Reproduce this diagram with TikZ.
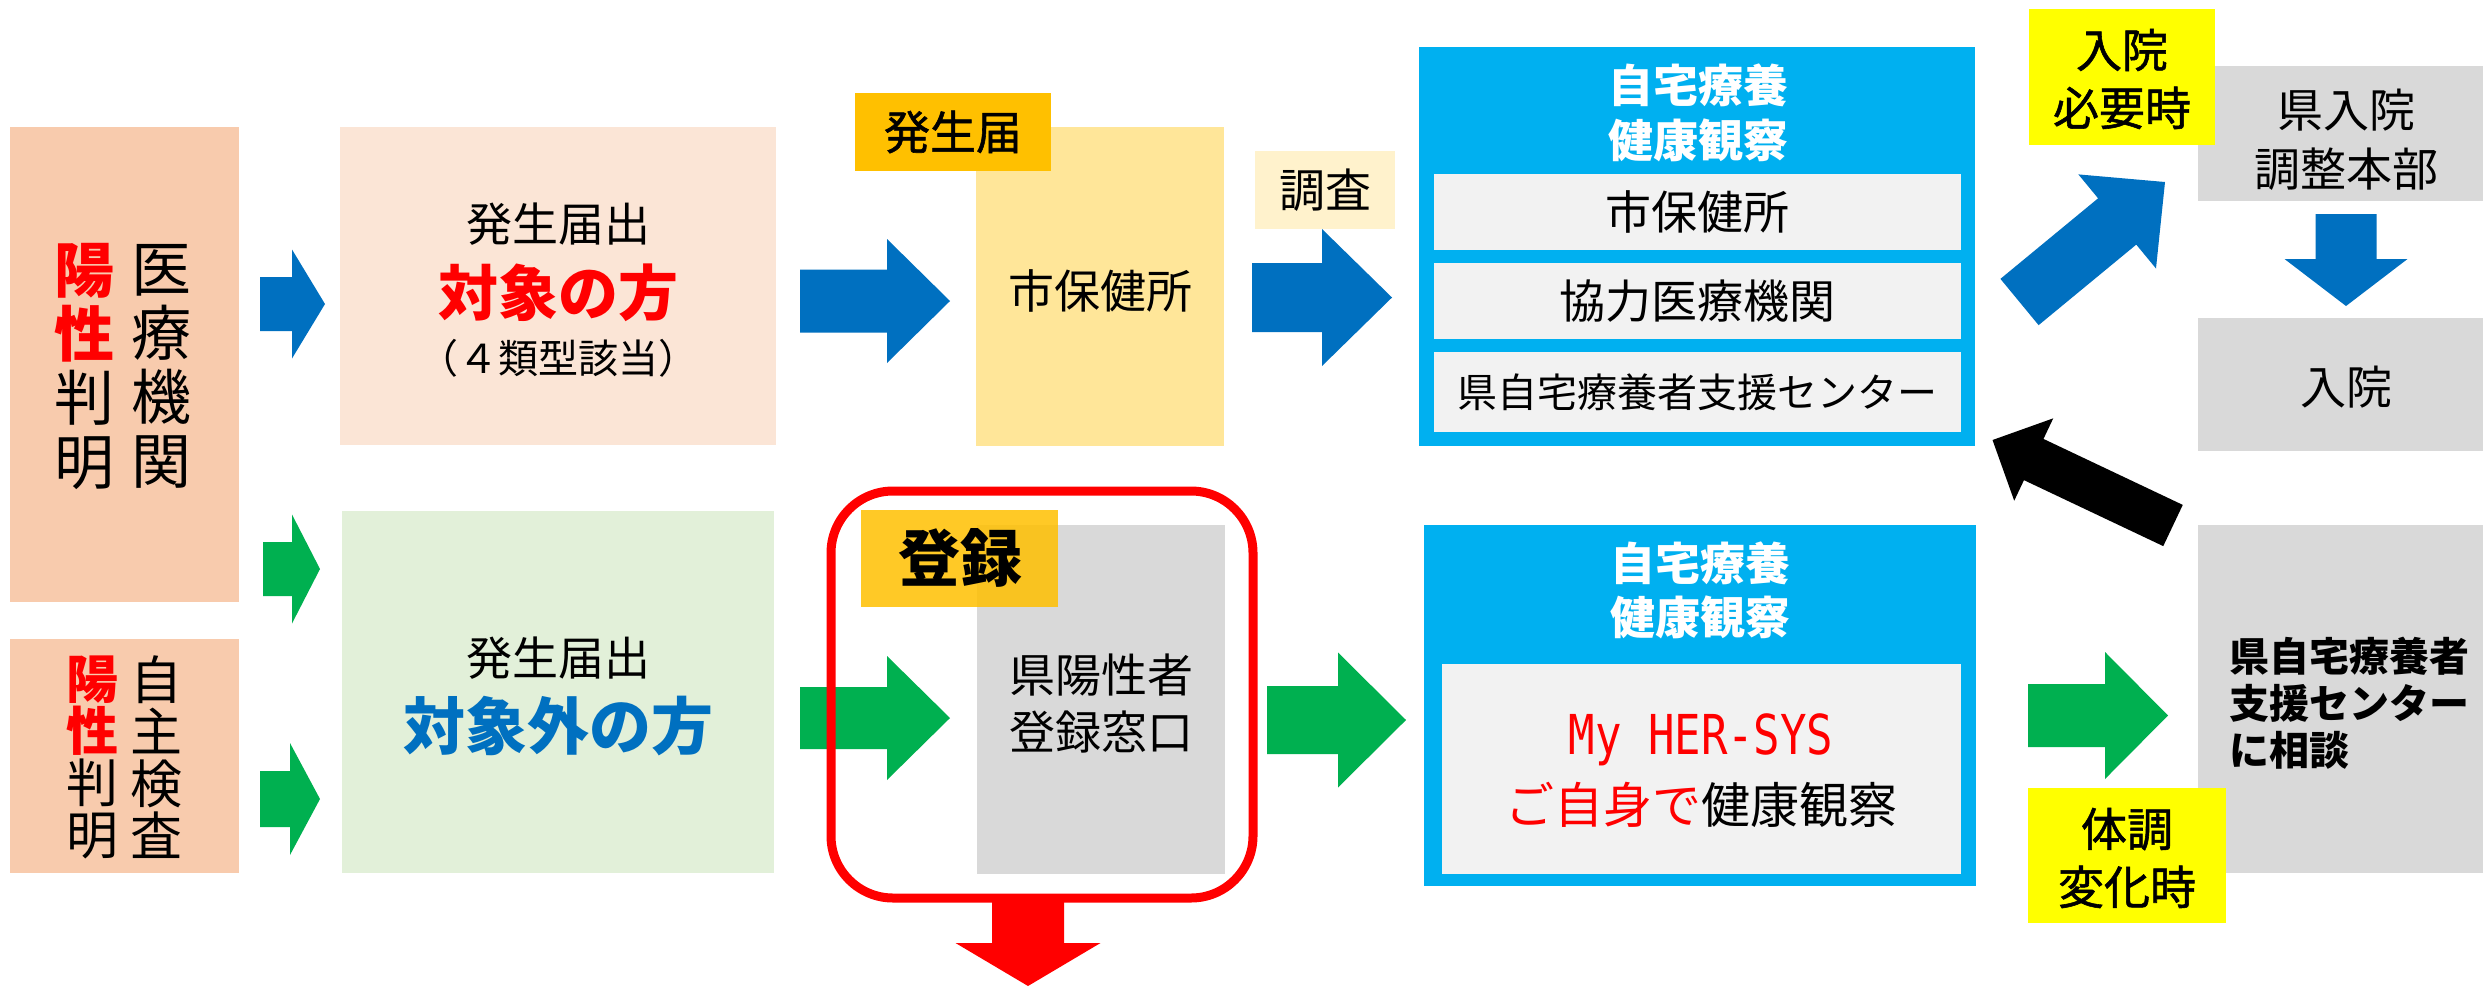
\documentclass[tikz,border=0pt]{standalone}
\usepackage{fontspec}
\usepackage{graphicx}
\setmainfont{Noto Sans CJK JP}
\newfontfamily\monofont{DejaVu Sans Mono}
\newfontfamily\semibold[FakeBold=1.2]{Noto Sans CJK JP}
\usetikzlibrary{calc}
\definecolor{cMed}{HTML}{F8CBAD}
\definecolor{cTgt}{HTML}{FBE5D6}
\definecolor{cNtgt}{HTML}{E2F0D9}
\definecolor{cCity}{HTML}{FFE699}
\definecolor{cGold}{HTML}{FFC000}
\definecolor{cChosa}{HTML}{FFF2CC}
\definecolor{cGray}{HTML}{D9D9D9}
\definecolor{cCyan}{HTML}{00B0F0}
\definecolor{cLight}{HTML}{F2F2F2}
\definecolor{cYellow}{HTML}{FFFF00}
\definecolor{cBlue}{HTML}{0070C0}
\definecolor{cGreen}{HTML}{00B050}
\definecolor{cRed}{HTML}{FF0000}
\newcommand\fsz[2]{\fontsize{#1pt}{#2pt}\selectfont}
% box: name, colour, x, y (top-left), width, height
\newcommand\rbox[6]{\node[boxsty,fill=#2,minimum width=#5pt,minimum height=#6pt] (#1) at (#3,#4) {};}
% block arrow: style, from, to, shaft half width, head half width, head length
\newcommand\blockarrow[6]{%
  \path let \p1=($(#3)-(#2)$) in \pgfextra{%
    \pgfmathsetmacro\baang{atan2(\y1,\x1)}%
    \pgfmathsetmacro\balen{veclen(\x1,\y1)}%
    \global\let\baAng\baang \global\let\baLen\balen};
  \fill[#1, shift={(#2)}, rotate=\baAng]
    (0pt,-#4pt) -- ({\baLen pt-#6pt},-#4pt) -- ({\baLen pt-#6pt},-#5pt) -- (\baLen pt,0pt)
    -- ({\baLen pt-#6pt},#5pt) -- ({\baLen pt-#6pt},#4pt) -- (0pt,#4pt) -- cycle;
}
\begin{document}
\begin{tikzpicture}[x=1pt,y=-1pt,
  boxsty/.style={anchor=north west,inner sep=0pt,outer sep=0pt,draw=none},
  txt/.style={inner sep=0pt,outer sep=0pt,align=center}]
\useasboundingbox[fill=white] (0,0) rectangle (2483,986);
% ---- boxes ----
\rbox{med}{cMed}{10}{127}{229}{475}
\rbox{self}{cMed}{10}{639}{229}{234}
\rbox{tgt}{cTgt}{340}{127}{436}{318}
\rbox{ntgt}{cNtgt}{342}{511}{432}{362}
\rbox{city}{cCity}{976}{127}{248}{319}
\rbox{hassei}{cGold}{855}{93}{196}{78}
\rbox{reg}{cGray}{977}{525}{248}{349}
\node[boxsty,fill=cGold,fill opacity=0.85,minimum width=197pt,minimum height=97pt] (toroku) at (861,510) {};
\rbox{chosa}{cChosa}{1255}{151}{140}{78}
\rbox{bluetop}{cCyan}{1419}{47}{556}{399}
\rbox{in1}{cLight}{1434}{174}{527}{76}
\rbox{in2}{cLight}{1434}{263}{527}{76}
\rbox{in3}{cLight}{1434}{352}{527}{80}
\rbox{bluebot}{cCyan}{1424}{525}{552}{361}
\rbox{in4}{cLight}{1442}{664}{519}{210}
\rbox{hq}{cGray}{2198}{66}{285}{135}
\rbox{hosp}{cGray}{2198}{318}{285}{133}
\rbox{support}{cGray}{2198}{525}{285}{348}
\rbox{need}{cYellow}{2029}{9}{186}{136}
\rbox{change}{cYellow}{2028}{788}{198}{135}
% ---- texts ----
\node[txt,font=\fsz{60}{64}] (t1a) at (84,366.5) {\textcolor{cRed}{\bfseries 陽}\\\textcolor{cRed}{\bfseries 性}\\判\\明};
\node[txt,font=\fsz{60}{64}] (t1b) at (161,366.5) {医\\療\\機\\関};
\node[txt,font=\fsz{52}{52}] (t2a) at (92,757) {\textcolor{cRed}{\bfseries 陽}\\\textcolor{cRed}{\bfseries 性}\\判\\明};
\node[txt,font=\fsz{52}{52}] (t2b) at (156,757) {自\\主\\検\\査};
\node[txt,font=\fsz{46}{50}] (t3a) at (558,224) {発生届出};
\node[txt,font=\fsz{60}{64}\bfseries,text=cRed] (t3b) at (558,293) {対象の方};
\node[txt,font=\fsz{40}{44}] (t3c) at (558,358) {（４類型該当）};
\node[txt,font=\fsz{46}{50}] (t4a) at (558,658) {発生届出};
\node[txt,font=\fsz{62}{66}\bfseries,text=cBlue] (t4b) at (558,726) {対象外の方};
\node[txt,font=\semibold\fsz{46}{50}] at (hassei.center) {発生届};
\node[txt,font=\fsz{46}{50}] at (1100,291) {市保健所};
\node[txt,font=\fsz{46}{50}] at (chosa.center) {調査};
\node[txt,font=\fsz{46}{57}] at (1101,703.5) {県陽性者\\登録窓口};
\node[txt,font=\fsz{62}{66}\bfseries] at (960,558) {登録};
\node[txt,font=\fsz{45}{55}\bfseries,text=white] at (1698,112.5) {自宅療養\\健康観察};
\node[txt,font=\fsz{46}{50}] at (in1.center) {市保健所};
\node[txt,font=\fsz{46}{50}] at (in2.center) {協力医療機関};
\node[txt,font=\fsz{40}{44}] at (in3.center) {県自宅療養者支援センター};
\node[txt,font=\fsz{45}{54}\bfseries,text=white] at (1700,590) {自宅療養\\健康観察};
\node[txt,font=\monofont\fsz{55}{60},text=cRed] at (1701,740) {\scalebox{0.8}[1]{My HER-SYS}};
\node[txt,font=\fsz{49}{54}] at (1701,805) {\textcolor{cRed}{ご自身で}健康観察};
\node[txt,font=\semibold\fsz{46}{58}] at (2122,79) {入院\\必要時};
\node[txt,font=\fsz{46}{59}] at (2346,139.5) {県入院\\調整本部};
\node[txt,font=\fsz{46}{50}] at (2346,387) {入院};
\node[txt,font=\fsz{40}{47}\bfseries,align=left,anchor=west] at (2229,703) {県自宅療養者\\支援センター\\に相談};
\node[txt,font=\semibold\fsz{46}{58}] at (2127,858) {体調\\変化時};
% ---- arrow end points ----
\coordinate (a1s) at (260,304);   \coordinate (a1e) at (325,304);
\coordinate (a2s) at (263,569);   \coordinate (a2e) at (320,569);
\coordinate (a3s) at (260,799);   \coordinate (a3e) at (320,799);
\coordinate (a4s) at (800,301);   \coordinate (a4e) at (950,301);
\coordinate (a5s) at (1252,297.5);\coordinate (a5e) at (1392,297.5);
\coordinate (a6s) at (800,718);   \coordinate (a6e) at (950,718);
\coordinate (a7s) at (1267,720);  \coordinate (a7e) at (1406,720);
\coordinate (a8s) at (2028,715.5);\coordinate (a8e) at (2168,715.5);
\coordinate (a9s) at (2346,214);  \coordinate (a9e) at (2346,306);
\coordinate (a10s) at (1028,898); \coordinate (a10e) at (1028,986);
\coordinate (a11s) at (2019.5,302);\coordinate (a11e) at (2165,182);
\coordinate (a12s) at (2173,525.5);\coordinate (a12e) at (1992.5,440);
\blockarrow{cBlue}{a1s}{a1e}{27}{54.5}{33}
\blockarrow{cGreen}{a2s}{a2e}{27}{54.5}{28}
\blockarrow{cGreen}{a3s}{a3e}{28}{56}{30}
\blockarrow{cBlue}{a4s}{a4e}{31.5}{62}{63}
\blockarrow{cBlue}{a5s}{a5e}{34.5}{68.5}{70}
\blockarrow{cGreen}{a6s}{a6e}{31}{62}{63}
\blockarrow{cGreen}{a7s}{a7e}{34}{67.5}{68}
\blockarrow{cGreen}{a8s}{a8e}{31.5}{63.5}{63}
\blockarrow{cBlue}{a9s}{a9e}{30.5}{61.5}{47}
\blockarrow{cRed}{a10s}{a10e}{36}{72.5}{43}
\blockarrow{cBlue}{a11s}{a11e}{30}{61}{62}
\blockarrow{black}{a12s}{a12e}{22.8}{45.6}{45.6}
% ---- red frame ----
\node[anchor=north west,inner sep=0pt,draw=cRed,line width=9pt,rounded corners=62pt,
      minimum width=422pt,minimum height=407pt] (frame) at (826.5,486.5) {};
\end{tikzpicture}
\end{document}
